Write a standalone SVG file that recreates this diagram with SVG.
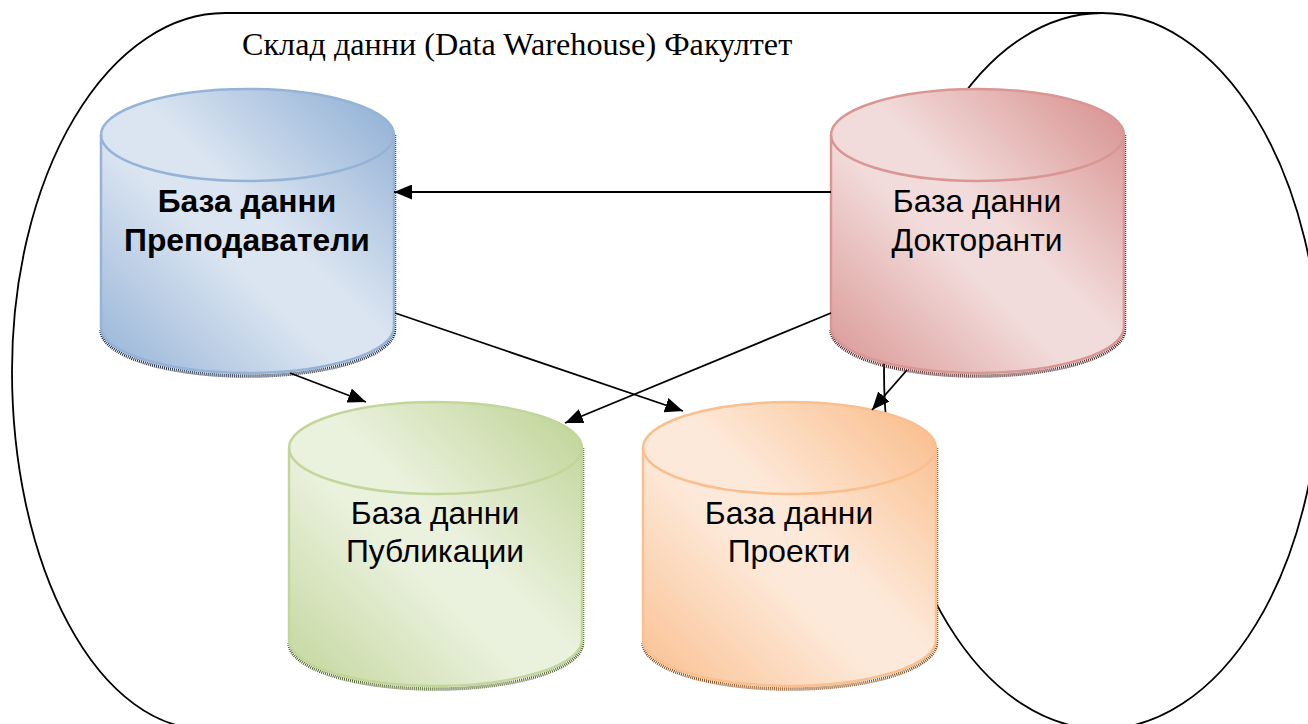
<svg xmlns="http://www.w3.org/2000/svg" width="1308" height="724" viewBox="0 0 1308 724">
<style>
.o{fill:none;stroke:#000;stroke-width:1.8}
.c{fill:none;stroke:#000;stroke-width:1.8;marker-end:url(#a)}
.t{font-family:"Liberation Sans",Arial,sans-serif;font-size:31.8px;text-anchor:middle;fill:#000}
.s{fill:none;stroke-width:3.500;stroke-dasharray:1 1}
.e{stroke-width:2.500}
</style>
<defs>
<marker id="a" markerUnits="userSpaceOnUse" markerWidth="19" markerHeight="15" refX="18" refY="7.5" orient="auto"><path d="M0 0L18 7.5L0 15Z" fill="#000"/></marker>
<linearGradient id="gb" x1="0" y1="1" x2="1" y2="0"><stop offset="0" stop-color="#95b3d7"/><stop offset=".42" stop-color="#dbe5f1"/><stop offset=".55" stop-color="#dbe5f1"/><stop offset=".95" stop-color="#95b3d7"/></linearGradient>
<linearGradient id="gr" x1="0" y1="1" x2="1" y2="0"><stop offset="0" stop-color="#d99694"/><stop offset=".42" stop-color="#f2dcdb"/><stop offset=".55" stop-color="#f2dcdb"/><stop offset=".95" stop-color="#d99694"/></linearGradient>
<linearGradient id="gg" x1="0" y1="1" x2="1" y2="0"><stop offset="0" stop-color="#c2d69b"/><stop offset=".42" stop-color="#eaf1dd"/><stop offset=".55" stop-color="#eaf1dd"/><stop offset=".95" stop-color="#c2d69b"/></linearGradient>
<linearGradient id="go" x1="0" y1="1" x2="1" y2="0"><stop offset="0" stop-color="#fabf8f"/><stop offset=".42" stop-color="#fde9d9"/><stop offset=".55" stop-color="#fde9d9"/><stop offset=".95" stop-color="#fabf8f"/></linearGradient>
<path id="cyl" d="M0 46A146.500 46 0 0 1 293 46V238A146.500 46 0 0 1 0 238Z"/>
<path id="shd" d="M293.500 46V241A146.500 46 0 0 1 0 241"/>
</defs>
<g id="outline">
<ellipse class="o" cx="1102" cy="371" rx="218" ry="358"/>
<path class="o" d="M1102 13H225A213 358 0 0 0 12 371A193 358 0 0 0 205 729"/>
</g>
<text id="title" x="242" y="55" font-family="Liberation Serif,Times New Roman,serif" font-size="32.2px" fill="#000">Склад данни (Data Warehouse) Факултет</text>
<g id="n1" transform="translate(101 89)">
<use href="#shd" class="s" stroke="#1f2a44"/>
<use href="#cyl" fill="url(#gb)" stroke="#95b3d7" class="e"/>
<path d="M0 46A146.500 46 0 0 0 293 46" fill="none" stroke="#95b3d7" class="e"/>
<text class="t" x="146" y="123" font-weight="bold">База данни</text>
<text class="t" x="146" y="162" font-weight="bold">Преподаватели</text>
</g>
<g id="n2" transform="translate(831 89)">
<use href="#shd" class="s" stroke="#4a1f1f"/>
<use href="#cyl" fill="url(#gr)" stroke="#d99694" class="e"/>
<path d="M0 46A146.500 46 0 0 0 293 46" fill="none" stroke="#d99694" class="e"/>
<text class="t" x="146" y="123">База данни</text>
<text class="t" x="146" y="162">Докторанти</text>
</g>
<g id="n3" transform="translate(289 402)">
<use href="#shd" class="s" stroke="#4f6228"/>
<use href="#cyl" fill="url(#gg)" stroke="#c2d69b" class="e"/>
<path d="M0 46A146.500 46 0 0 0 293 46" fill="none" stroke="#c2d69b" class="e"/>
<text class="t" x="146" y="122">База данни</text>
<text class="t" x="146" y="160">Публикации</text>
</g>
<g id="n4" transform="translate(643 402)">
<use href="#shd" class="s" stroke="#8a4a14"/>
<use href="#cyl" fill="url(#go)" stroke="#fabf8f" class="e"/>
<path d="M0 46A146.500 46 0 0 0 293 46" fill="none" stroke="#fabf8f" class="e"/>
<text class="t" x="146" y="122">База данни</text>
<text class="t" x="146" y="160">Проекти</text>
</g>
<g id="connectors">
<line class="c" x1="831" y1="192" x2="394" y2="192"/>
<line class="c" x1="395" y1="313" x2="683" y2="411"/>
<line class="c" x1="290" y1="373" x2="366" y2="402"/>
<line class="c" x1="831" y1="313" x2="565" y2="423"/>
<line class="c" x1="907" y1="370" x2="872" y2="410"/>
</g>
</svg>
